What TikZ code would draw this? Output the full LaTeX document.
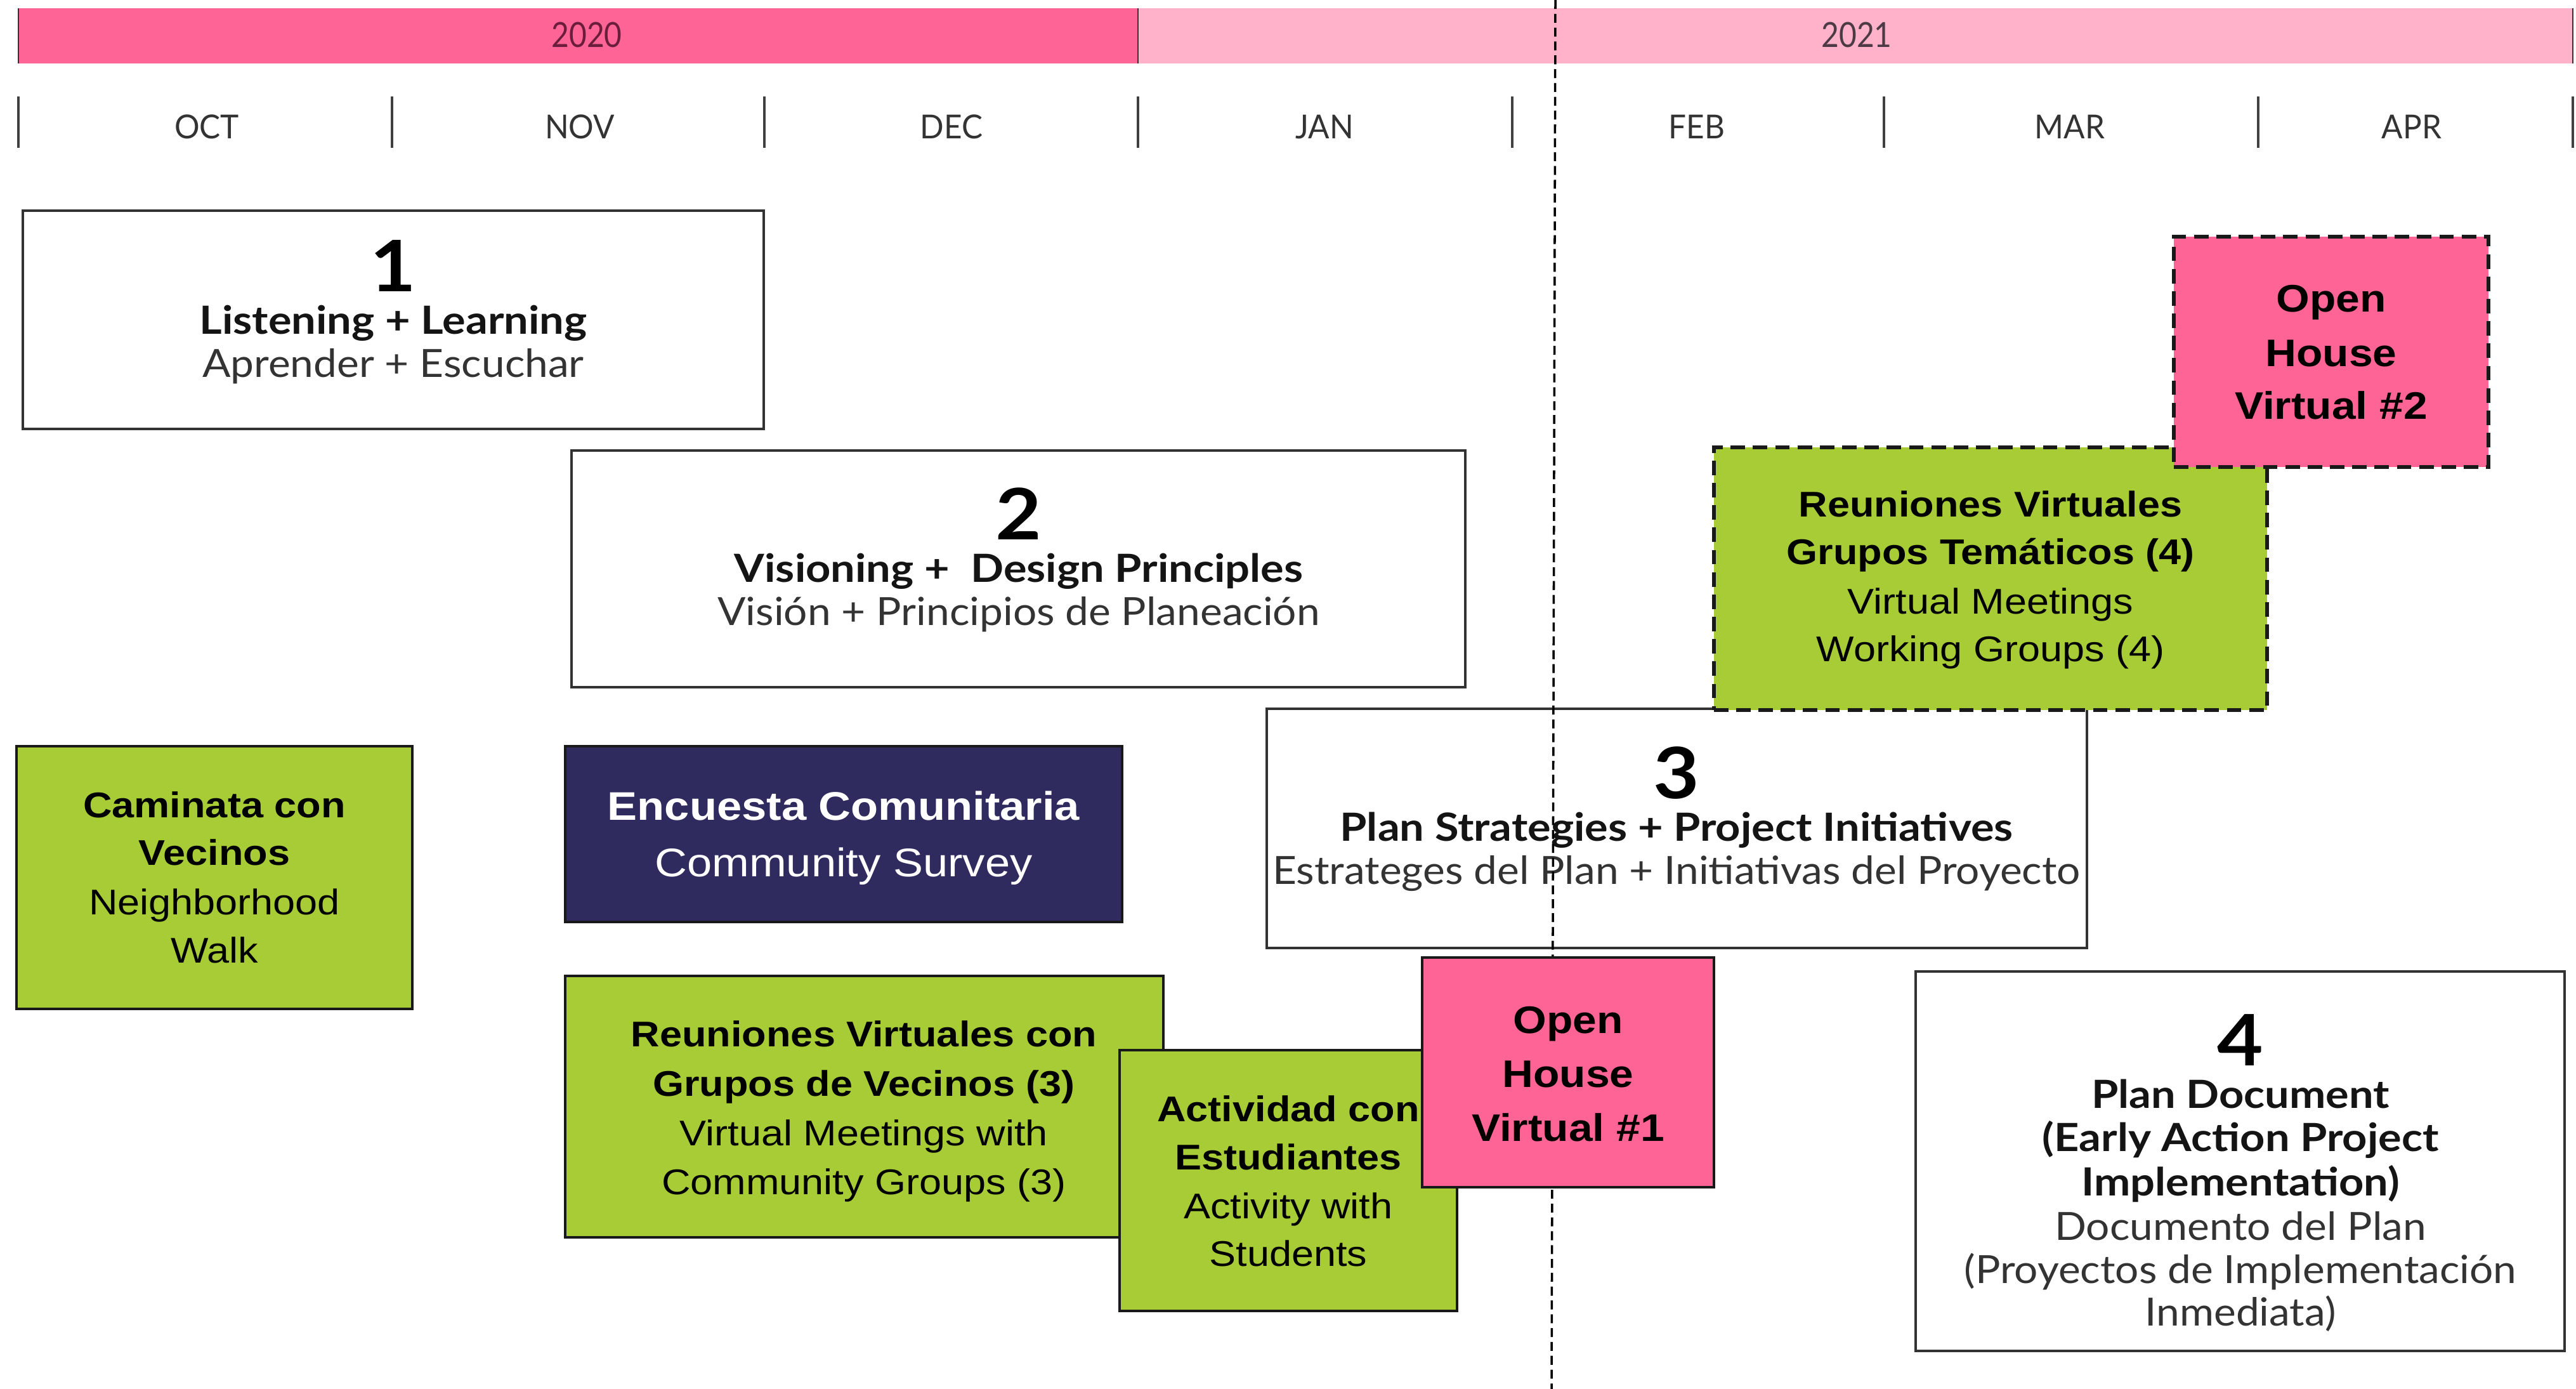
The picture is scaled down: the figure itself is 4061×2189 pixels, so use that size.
\documentclass[tikz,border=0pt]{standalone}
\usepackage{fontspec}
\newfontfamily\av[FakeStretch=1.12]{Lato}
\newfontfamily\avreg[FakeStretch=1.075]{Lato}
\newfontfamily\ar[FakeStretch=1.12]{Liberation Sans}
\newfontfamily\avc[FakeStretch=0.88]{Lato}
\newfontfamily\avm[FakeStretch=0.95]{Lato}
\newcommand\myfs[2]{\fontsize{#1}{#2}\selectfont}
\definecolor{hotpink}{HTML}{FF6496}
\definecolor{lightpink}{HTML}{FFB2C9}
\definecolor{limegreen}{HTML}{A8CC36}
\definecolor{navy}{HTML}{2F2B5F}
\definecolor{yeardark}{HTML}{6A1E3C}
\definecolor{yeargray}{HTML}{4C3A44}
\begin{document}
\begin{tikzpicture}[x=0.01cm,y=-0.01cm,
  lbl/.style={anchor=base,inner sep=0pt,outer sep=0pt},
  wbox/.style={rectangle,draw=black!80,line width=1.15pt,fill=white,inner sep=0pt},
  gbox/.style={rectangle,draw=black!90,line width=1.15pt,fill=limegreen,inner sep=0pt},
  pbox/.style={rectangle,draw=black!90,line width=1.15pt,fill=hotpink,inner sep=0pt},
  nbox/.style={rectangle,draw=black!90,line width=1.15pt,fill=navy,inner sep=0pt},
  dashbox/.style={dash pattern=on 6.5pt off 3.5pt,line width=1.7pt},
  vdash/.style={draw=black,line width=1pt,dash pattern=on 4pt off 2.2pt},
  tick/.style={draw=black!75,line width=0.9pt},
  yearlbl/.style={lbl,font=\avc\myfs{15.5pt}{16pt}},
  monthlbl/.style={lbl,font=\avm\myfs{14.8pt}{15pt},text=black!80},
  avnum/.style={lbl,font=\av\bfseries\myfs{31.8pt}{32pt},text=black},
  avb/.style={lbl,font=\av\bfseries\myfs{17.4pt}{18pt},text=black!92},
  avr/.style={lbl,font=\avreg\myfs{17.4pt}{18pt},text=black!80},
  arb/.style={lbl,font=\ar\bfseries\myfs{16pt}{18pt},text=black},
  arr/.style={lbl,font=\ar\myfs{16pt}{18pt},text=black},
  ohb/.style={lbl,font=\ar\bfseries\myfs{17.2pt}{18pt},text=black}
]
\path[use as bounding box,fill=white] (0,0) rectangle (4061,2189);

% ---- year bar ----
\fill[hotpink] (29,13) rectangle (1794,100);
\fill[lightpink] (1794,13) rectangle (4056,100);
\draw[black!80,line width=0.8pt] (29,13) -- (29,100);
\draw[black!80,line width=0.8pt] (1794,13) -- (1794,100);
\draw[black!80,line width=0.8pt] (4056,13) -- (4056,100);
\node[yearlbl,text=yeardark] (y2020) at (925,75) {2020};
\node[yearlbl,text=yeargray] (y2021) at (2927,75) {2021};

% ---- month ticks ----
\foreach \tx in {29,618,1205,1794,2384,2970,3560,4056}
  \draw[tick] (\tx,152) -- (\tx,233);
\node[monthlbl] (moct) at (326,219) {OCT};
\node[monthlbl] (mnov) at (914,219) {NOV};
\node[monthlbl] (mdec) at (1500,219) {DEC};
\node[monthlbl] (mjan) at (2088,219) {JAN};
\node[monthlbl] (mfeb) at (2675,219) {FEB};
\node[monthlbl] (mmar) at (3263,219) {MAR};
\node[monthlbl] (mapr) at (3802,219) {APR};

% ---- phase 1 ----
\node[wbox,minimum width=11.68cm,minimum height=3.44cm] (b1) at (620,504) {};
\node[avnum] (b1n) at (620,460) {1};
\node[avb] (b1a) at (620,527) {Listening + Learning};
\node[avr] (b1b) at (620,595) {Aprender + Escuchar};

% ---- phase 2 ----
\node[wbox,minimum width=14.09cm,minimum height=3.73cm] (b2) at (1605.5,896.5) {};
\node[avnum] (b2n) at (1606,851) {2};
\node[avb] (b2a) at (1606,918) {Visioning +\ \ Design Principles};
\node[avr] (b2b) at (1606,986) {Visión + Principios de Planeación};

% ---- Caminata ----
\node[gbox,minimum width=6.24cm,minimum height=4.14cm] (cam) at (338,1383) {};
\node[arb] (cam1) at (338,1288) {Caminata con};
\node[arb] (cam2) at (338,1363) {Vecinos};
\node[arr] (cam3) at (338,1441) {Neighborhood};
\node[arr] (cam4) at (338,1517) {Walk};

% ---- Encuesta ----
\node[nbox,minimum width=8.78cm,minimum height=2.77cm] (enc) at (1330,1314.5) {};
\node[lbl,font=\ar\bfseries\myfs{17.9pt}{18pt},text=white] (enc1) at (1330,1292) {Encuesta Comunitaria};
\node[lbl,font=\ar\myfs{17.9pt}{18pt},text=white] (enc2) at (1330,1381) {Community Survey};

% ---- phase 3 ----
\node[wbox,minimum width=12.93cm,minimum height=3.77cm] (b3) at (2643.5,1305.5) {};
\node[avnum] (b3n) at (2643,1258) {3};
\node[avb] (b3a) at (2643,1325) {Plan Strategies + Project Initiatives};
\node[avr] (b3b) at (2643,1393) {Estrateges del Plan + Initiativas del Proyecto};

% ---- thematic groups (dashed) ----
\node[gbox,dashbox,minimum width=8.72cm,minimum height=4.14cm] (them) at (3138,912) {};
\node[arb] (them1) at (3138,815) {Reuniones Virtuales};
\node[arb] (them2) at (3138,890) {Grupos Temáticos (4)};
\node[arr] (them3) at (3138,968) {Virtual Meetings};
\node[arr] (them4) at (3138,1043) {Working Groups (4)};

% ---- open house 2 (dashed) ----
\node[pbox,dashbox,minimum width=4.96cm,minimum height=3.63cm] (oh2) at (3675,554.5) {};
\node[ohb] (oh2a) at (3675,492) {Open};
\node[ohb] (oh2b) at (3675,578) {House};
\node[ohb] (oh2c) at (3675,661) {Virtual \#2};

% ---- reuniones con grupos ----
\node[gbox,minimum width=9.43cm,minimum height=4.12cm] (reu) at (1362.5,1744) {};
\node[arb] (reu1) at (1362,1649) {Reuniones Virtuales con};
\node[arb] (reu2) at (1362,1727) {Grupos de Vecinos (3)};
\node[arr] (reu3) at (1362,1805) {Virtual Meetings with};
\node[arr] (reu4) at (1362,1882) {Community Groups (3)};

% ---- actividad ----
\node[gbox,minimum width=5.32cm,minimum height=4.11cm] (act) at (2031,1860.5) {};
\node[arb] (act1) at (2031,1767) {Actividad con};
\node[arb] (act2) at (2031,1843) {Estudiantes};
\node[arr] (act3) at (2031,1920) {Activity with};
\node[arr] (act4) at (2031,1995) {Students};

% ---- phase 4 ----
\node[wbox,minimum width=10.23cm,minimum height=5.98cm] (b4) at (3531.5,1830) {};
\node[avnum] (b4n) at (3532,1679) {4};
\node[avb] (b4a) at (3532,1746) {Plan Document};
\node[avb] (b4b) at (3532,1814) {(Early Action Project};
\node[avb] (b4c) at (3532,1884) {Implementation)};
\node[avr] (b4d) at (3532,1954) {Documento del Plan};
\node[avr] (b4e) at (3532,2022) {(Proyectos de Implementación};
\node[avr] (b4f) at (3532,2089) {Inmediata)};

% ---- today line ----
\coordinate (vtop) at (2452,0);
\coordinate (vbot) at (2446,2189);
\draw[vdash] (vtop) -- (vbot);

% ---- open house 1 ----
\node[pbox,minimum width=4.60cm,minimum height=3.62cm] (oh1) at (2472,1690) {};
\node[ohb] (oh1a) at (2472,1628) {Open};
\node[ohb] (oh1b) at (2472,1713) {House};
\node[ohb] (oh1c) at (2472,1798) {Virtual \#1};
\end{tikzpicture}
\end{document}
